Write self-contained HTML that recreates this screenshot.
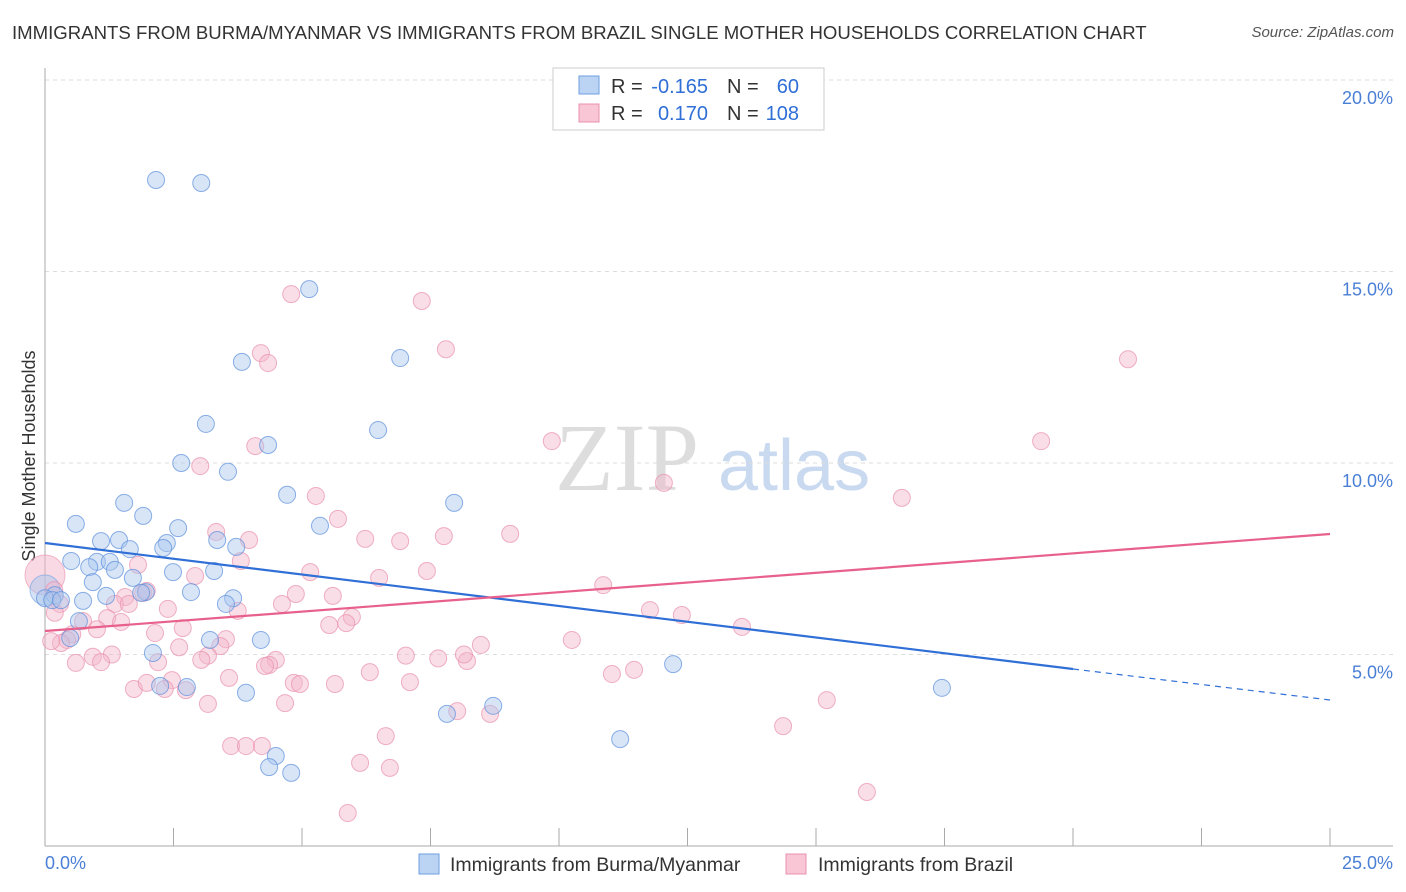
<!DOCTYPE html>
<html><head><meta charset="utf-8">
<style>
body{margin:0;background:#fff;font-family:"Liberation Sans",sans-serif;}
#wrap{position:relative;width:1406px;height:892px;overflow:hidden;}
.title{position:absolute;left:12px;top:22px;font-size:18.6px;color:#333;white-space:nowrap;}
.src{position:absolute;right:12px;top:24px;font-size:15px;color:#555;font-style:italic;}
</style></head><body>
<div id="wrap">
<div class="title">IMMIGRANTS FROM BURMA/MYANMAR VS IMMIGRANTS FROM BRAZIL SINGLE MOTHER HOUSEHOLDS CORRELATION CHART</div>
<div class="src">Source: ZipAtlas.com</div>
<svg id="svg" width="1406" height="892" style="position:absolute;left:0;top:0"></svg>
</div>
<script>
const yTicks=[5,10,15,20];
const xTickCount=10;
const blueX=[2.16,3.04,5.14,3.83,6.91,3.13,6.48,4.34,2.65,3.56,4.71,7.96,1.54,1.91,0.60,5.35,2.59,1.09,1.44,1.65,2.37,2.30,3.35,3.72,0.51,1.01,1.26,0.86,1.36,2.49,3.29,0.93,1.71,1.96,1.87,2.84,0.19,0.0,0.14,0.31,0.74,1.19,3.66,3.52,0.66,0.49,3.21,4.20,2.10,12.22,2.24,2.76,3.91,17.45,8.72,7.82,11.19,4.49,4.36,4.79];
const blueY=[17.39,17.31,14.54,12.64,12.74,11.02,10.86,10.47,10.0,9.77,9.17,8.96,8.96,8.62,8.41,8.36,8.30,7.96,7.99,7.75,7.91,7.78,7.99,7.81,7.44,7.42,7.42,7.28,7.21,7.15,7.18,6.89,7.0,6.63,6.61,6.63,6.55,6.47,6.42,6.42,6.40,6.53,6.47,6.32,5.87,5.43,5.38,5.38,5.04,4.75,4.18,4.15,4.0,4.13,3.66,3.45,2.79,2.35,2.06,1.91];
const pinkX=[4.79,7.33,7.80,4.20,4.34,21.07,9.86,19.38,4.09,3.02,12.04,16.67,5.27,5.70,3.33,9.05,7.76,3.97,6.23,6.91,3.81,1.81,5.16,7.43,6.50,1.91,2.92,0.18,10.86,1.56,1.98,1.36,1.63,0.29,4.88,4.61,5.60,2.39,11.77,12.39,0.19,1.21,5.97,1.48,0.74,5.86,5.53,13.56,3.75,2.68,1.01,0.53,2.14,0.43,0.31,3.52,0.12,2.61,3.41,10.25,8.48,1.30,0.93,3.17,3.04,7.02,7.65,8.21,8.15,4.49,4.36,4.28,2.20,0.60,1.09,6.32,11.03,11.46,3.58,2.47,4.84,4.96,5.64,7.10,1.73,1.98,2.33,2.74,15.21,3.17,4.67,8.02,8.66,14.36,6.63,4.22,3.62,3.91,6.13,6.71,15.99,5.89];
const pinkY=[14.41,14.23,12.97,12.87,12.61,12.71,10.57,10.57,10.44,9.92,9.48,9.09,9.14,8.54,8.20,8.15,8.09,7.99,8.02,7.96,7.44,7.34,7.15,7.18,7.0,6.61,7.05,6.68,6.81,6.50,6.66,6.32,6.32,6.32,6.58,6.32,6.53,6.19,6.16,6.03,6.09,5.95,5.98,5.85,5.87,5.82,5.77,5.72,6.14,5.69,5.66,5.53,5.56,5.38,5.30,5.40,5.35,5.19,5.22,5.38,5.25,5.0,4.94,4.97,4.86,4.97,4.90,4.83,5.0,4.86,4.73,4.70,4.80,4.78,4.80,4.54,4.49,4.60,4.39,4.33,4.26,4.23,4.23,4.28,4.10,4.26,4.10,4.07,3.81,3.71,3.73,3.52,3.45,3.13,2.87,2.61,2.61,2.61,2.17,2.04,1.41,0.86];
const NS="http://www.w3.org/2000/svg";
const svg=document.getElementById('svg');
const X0=45,X1=1330,Y0=846,Y20=80;
const xs=v=>X0+(X1-X0)*v/25;
const ys=v=>Y0-(Y0-Y20)*v/20;
function mk(t,a,p){const e=document.createElementNS(NS,t);for(const k in a)e.setAttribute(k,a[k]);(p||svg).appendChild(e);return e;}
let w=mk('text',{x:555,y:490,'font-size':96,fill:'#ddd','font-family':'Liberation Serif'});w.textContent='ZIP';

let w2=mk('text',{x:718,y:490,'font-size':72,fill:'#c9d9f0','font-family':'Liberation Sans'});w2.textContent='atlas';

mk('line',{x1:X0,x2:1393,y1:Y20,y2:Y20,stroke:'#ddd','stroke-dasharray':'4,4'});
yTicks.forEach(t=>{const g=mk('line',{x1:X0,x2:1393,y1:ys(t),y2:ys(t),stroke:'#ddd','stroke-dasharray':'4,4'});

const l=mk('text',{x:1393,y:ys(t)+24,'text-anchor':'end','font-size':18,fill:'#4a7fd6'});l.textContent=t.toFixed(1)+'%';
});
mk('line',{x1:X0,x2:X0,y1:68,y2:Y0,stroke:'#aaa'});
mk('line',{x1:X0,x2:1393,y1:Y0,y2:Y0,stroke:'#aaa'});
for(let i=0;i<=xTickCount;i++){const x=xs(i*2.5);const t=mk('line',{x1:x,x2:x,y1:828,y2:Y0,stroke:'#aaa'});
}
let a=mk('text',{x:45,y:869,'font-size':18,fill:'#4a7fd6'});a.textContent='0.0%';
let b=mk('text',{x:1393,y:869,'font-size':18,fill:'#4a7fd6','text-anchor':'end'});b.textContent='25.0%';
let yt=mk('text',{x:35,y:456,'font-size':18,fill:'#333','text-anchor':'middle',transform:'rotate(-90 35 456)'});yt.textContent='Single Mother Households';

mk('circle',{cx:45,cy:575,r:20,fill:'#f4b6c9','fill-opacity':0.5,stroke:'#e890ad','stroke-opacity':0.6});
mk('circle',{cx:45,cy:590,r:15,fill:'#a9c6ee','fill-opacity':0.5,stroke:'#6e9fe0','stroke-opacity':0.6});
pinkX.forEach((v,i)=>{const c=mk('circle',{cx:xs(v),cy:ys(pinkY[i]),r:8.5,fill:'#f4b6c9','fill-opacity':0.45,stroke:'#e890ad','stroke-opacity':0.7});
});
blueX.forEach((v,i)=>{const c=mk('circle',{cx:xs(v),cy:ys(blueY[i]),r:8.5,fill:'#a9c6ee','fill-opacity':0.45,stroke:'#5b8fdc','stroke-opacity':0.7});
});
let bl=mk('line',{x1:45,y1:543,x2:1073,y2:669,stroke:'#2f6fd6','stroke-width':2.2});
mk('line',{x1:1073,y1:669,x2:1330,y2:700,stroke:'#2f6fd6','stroke-width':1.2,'stroke-dasharray':'6,5'});
let pl=mk('line',{x1:45,y1:631,x2:1330,y2:534,stroke:'#e8608c','stroke-width':2.2});
let lg=mk('g',{});
mk('rect',{x:553,y:68,width:271,height:62,fill:'#fff',stroke:'#ccc'},lg);
mk('rect',{x:579,y:76,width:20,height:18,fill:'#bcd4f4',stroke:'#6e9fe0'},lg);
mk('rect',{x:579,y:104,width:20,height:18,fill:'#f8c6d5',stroke:'#e890ad'},lg);
function tx(x,y,s,c,anc){const t=mk('text',{x:x,y:y,'font-size':20,fill:c,'text-anchor':anc||'start'},lg);t.textContent=s;}
tx(611,93,'R =','#333');tx(708,93,'-0.165','#2f6fd6','end');tx(727,93,'N =','#333');tx(799,93,'60','#2f6fd6','end');
tx(611,120,'R =','#333');tx(708,120,'0.170','#2f6fd6','end');tx(727,120,'N =','#333');tx(799,120,'108','#2f6fd6','end');
let bg=mk('g',{});
mk('rect',{x:419,y:854,width:20,height:20,fill:'#bcd4f4',stroke:'#6e9fe0'},bg);
let t1=mk('text',{x:450,y:871,'font-size':19.5,fill:'#333'},bg);t1.textContent='Immigrants from Burma/Myanmar';
mk('rect',{x:786,y:854,width:20,height:20,fill:'#f8c6d5',stroke:'#e890ad'},bg);
let t2=mk('text',{x:818,y:871,'font-size':19.5,fill:'#333'},bg);t2.textContent='Immigrants from Brazil';
</script>
</body></html>
